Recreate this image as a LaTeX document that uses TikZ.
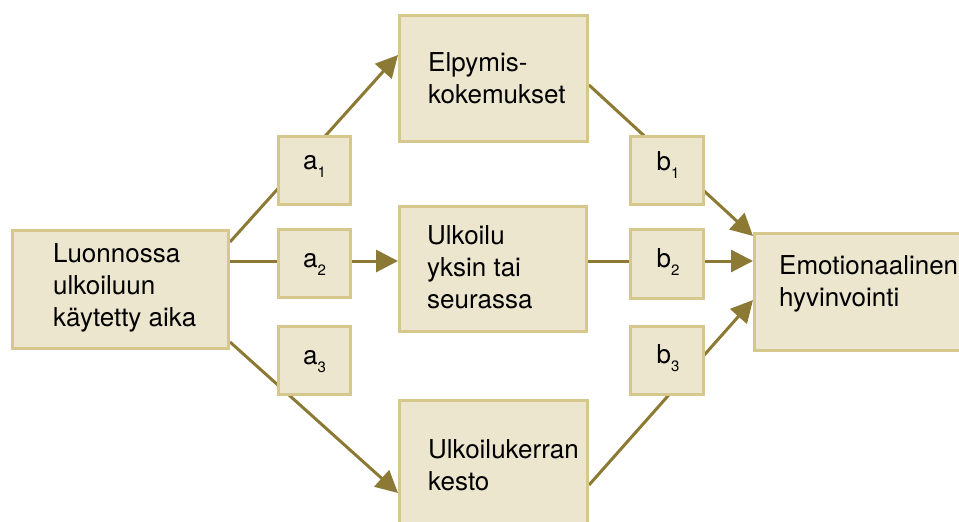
\documentclass[tikz,border=0pt]{standalone}
\usepackage{fontspec}
\setmainfont{TeX Gyre Heros}
\usetikzlibrary{arrows.meta}
\definecolor{boxfill}{RGB}{237,230,207}
\definecolor{boxedge}{RGB}{214,200,140}
\definecolor{arrowcol}{RGB}{140,122,52}
\pgfdeclarelayer{bg}
\pgfsetlayers{bg,main}
\newcommand{\mysub}[2]{#1\raisebox{-8pt}{\fontsize{15}{15}\selectfont #2}}
\begin{document}
\begin{tikzpicture}[x=1pt,y=-1pt,
  box/.style={draw=boxedge, fill=boxfill, line width=3pt, rectangle, inner sep=0pt},
  lbl/.style={anchor=base west, inner sep=0pt, font=\fontsize{26}{32}\selectfont, align=left},
  sublbl/.style={anchor=base, inner sep=0pt, font=\fontsize{26}{32}\selectfont},
  conn/.style={draw=arrowcol, line width=3pt},
  arr/.style={conn, -{Triangle[length=22pt,width=22pt]}},
]
\useasboundingbox (0,0) rectangle (959,522);
\clip (0,0) rectangle (959,522);

% boxes
\node[box, minimum width=216pt, minimum height=118pt] (L) at (120.5,289.5) {};
\node[box, minimum width=188pt, minimum height=126pt] (T) at (493.5,78.5) {};
\node[box, minimum width=187pt, minimum height=125pt] (M) at (493,269) {};
\node[box, minimum width=188pt, minimum height=126pt] (B) at (493.5,463.5) {};
\node[box, minimum width=216pt, minimum height=117pt] (R) at (862.5,292) {};

\node[box, minimum width=72pt, minimum height=68pt] (A1) at (314.5,170.5) {};
\node[box, minimum width=72pt, minimum height=68pt] (A2) at (314.5,263.5) {};
\node[box, minimum width=72pt, minimum height=68pt] (A3) at (314.5,360.5) {};
\node[box, minimum width=73pt, minimum height=68pt] (B1) at (667,170.5) {};
\node[box, minimum width=73pt, minimum height=69pt] (B2) at (667,264) {};
\node[box, minimum width=73pt, minimum height=68pt] (B3) at (667,360.5) {};

% texts (anchor is the baseline of the last line)
\node[lbl] (tL) at (53,326) {Luonnossa\\ulkoiluun\\käytetty aika};
\node[lbl] (tT) at (428,103) {Elpymis-\\kokemukset};
\node[lbl] (tM) at (427,308) {Ulkoilu\\yksin tai\\seurassa};
\node[lbl] (tB) at (428,490) {Ulkoilukerran\\kesto};
\node[lbl] (tR) at (779,306) {Emotionaalinen\\hyvinvointi};

\node[sublbl] (la1) at (314.5,169) {\mysub{a}{1}};
\node[sublbl] (la2) at (314.5,267) {\mysub{a}{2}};
\node[sublbl] (la3) at (314.5,364) {\mysub{a}{3}};
\node[sublbl] (lb1) at (668,170) {\mysub{b}{1}};
\node[sublbl] (lb2) at (668,267) {\mysub{b}{2}};
\node[sublbl] (lb3) at (668,363) {\mysub{b}{3}};

% connectors
\begin{pgfonlayer}{bg}
\draw[arr] ([yshift=-13pt]L.north east) -- ([yshift=-41pt]T.north west);
\draw[arr] ([yshift=28.5pt]L.east) -- ([yshift=8pt]M.west);
\draw[arr] ([yshift=8pt]L.south east) -- ([yshift=-94pt]B.north west);
\draw[arr] ([yshift=-71pt]T.north east) -- ([yshift=-4pt]R.north west);
\draw[arr] ([yshift=8pt]M.east) -- ([yshift=31pt]R.west);
\draw[arr] ([yshift=-86pt]B.north east) -- ([yshift=52pt]R.south west);
\end{pgfonlayer}
\end{tikzpicture}
\end{document}
